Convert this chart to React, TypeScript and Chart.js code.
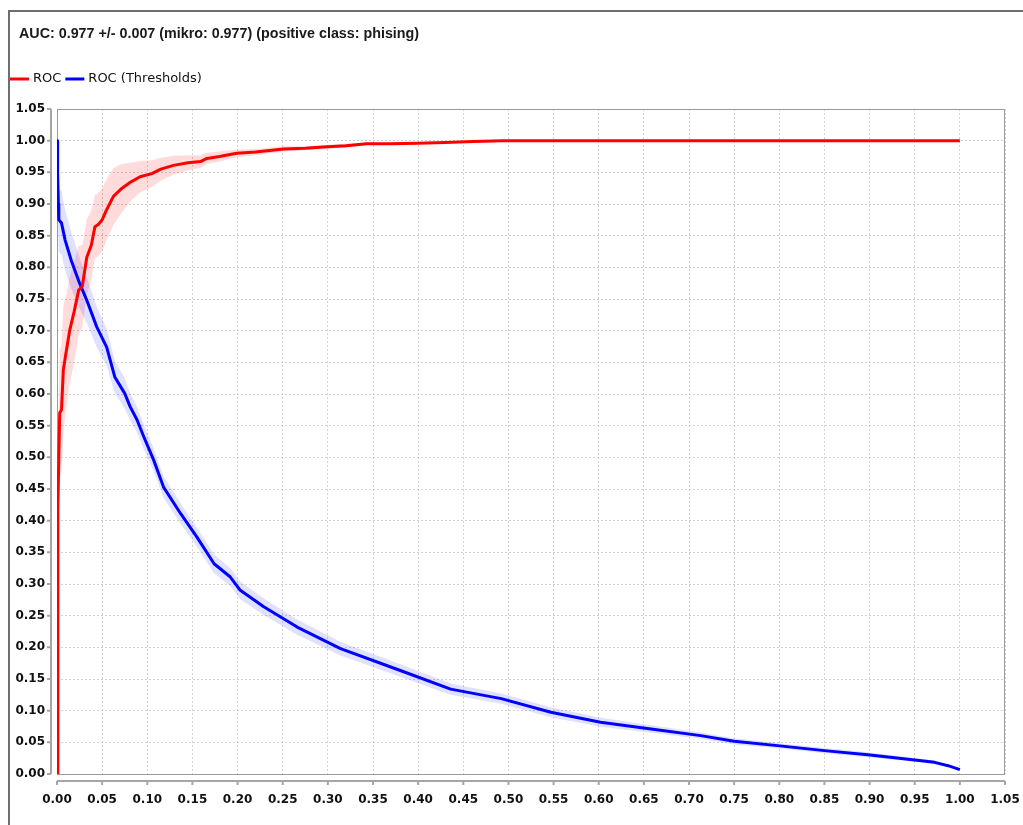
import React, { useEffect, useRef } from "react";
import { Chart, registerables } from "chart.js";

Chart.register(...registerables);

const titleText = "AUC: 0.977 +/- 0.007 (mikro: 0.977) (positive class: phising)";
const rocLabel = "ROC";
const thresholdLabel = "ROC (Thresholds)";

const axisMin = 0;
const axisMax = 1.05;
const axisStep = 0.05;
const tickLabels = [
  "0.00", "0.05", "0.10", "0.15", "0.20", "0.25", "0.30", "0.35", "0.40", "0.45", "0.50",
  "0.55", "0.60", "0.65", "0.70", "0.75", "0.80", "0.85", "0.90", "0.95", "1.00", "1.05",
];

// ROC (red): false positive rate vs true positive rate, with band half-width
const rocX = [
  0, 0.001, 0.002, 0.003, 0.005, 0.007, 0.010, 0.014, 0.019, 0.024, 0.028, 0.033, 0.038, 0.042,
  0.046, 0.050, 0.055, 0.0625, 0.072, 0.082, 0.092, 0.105, 0.115, 0.129, 0.145, 0.159, 0.166,
  0.180, 0.199, 0.220, 0.251, 0.275, 0.295, 0.320, 0.343, 0.370, 0.399, 0.430, 0.461, 0.494,
  0.600, 0.800, 1.000,
];
const rocY = [
  0, 0.42, 0.50, 0.57, 0.575, 0.638, 0.665, 0.70, 0.73, 0.764, 0.77, 0.816, 0.835, 0.864,
  0.868, 0.875, 0.891, 0.912, 0.925, 0.935, 0.943, 0.948, 0.955, 0.961, 0.965, 0.967, 0.972,
  0.975, 0.980, 0.982, 0.987, 0.988, 0.990, 0.992, 0.995, 0.995, 0.996, 0.997, 0.9987, 1.0,
  1.0, 1.0, 1.0,
];
const rocBand = [
  0, 0.05, 0.08, 0.10, 0.10, 0.10, 0.09, 0.085, 0.08, 0.07, 0.065, 0.06, 0.055, 0.05,
  0.05, 0.05, 0.048, 0.045, 0.038, 0.03, 0.025, 0.021, 0.018, 0.015, 0.012, 0.01, 0.009,
  0.008, 0.006, 0.005, 0.004, 0.003, 0.003, 0.003, 0.002, 0.002, 0.002, 0.001, 0.001, 0,
  0, 0, 0,
];

// ROC (Thresholds) (blue)
const thrX = [
  0, 0.0007, 0.0015, 0.002, 0.005, 0.009, 0.016, 0.025, 0.033, 0.044, 0.055, 0.064, 0.075,
  0.081, 0.0887, 0.096, 0.107, 0.118, 0.137, 0.155, 0.174, 0.192, 0.203, 0.229, 0.266, 0.314,
  0.381, 0.436, 0.492, 0.547, 0.602, 0.658, 0.713, 0.750, 0.798, 0.850, 0.898, 0.950, 0.972,
  0.987, 1.000,
];
const thrY = [
  1.0, 0.95, 0.90, 0.875, 0.87, 0.843, 0.81, 0.775, 0.748, 0.706, 0.674, 0.627, 0.601,
  0.580, 0.559, 0.533, 0.496, 0.453, 0.411, 0.374, 0.332, 0.311, 0.290, 0.264, 0.232, 0.198,
  0.163, 0.134, 0.119, 0.0975, 0.0817, 0.071, 0.0606, 0.0516, 0.0448, 0.0369, 0.0305, 0.0222,
  0.0184, 0.0131, 0.0068,
];
const thrBand = [
  0, 0.03, 0.045, 0.05, 0.05, 0.048, 0.045, 0.04, 0.036, 0.032, 0.029, 0.026, 0.024,
  0.022, 0.02, 0.02, 0.018, 0.017, 0.016, 0.015, 0.015, 0.014, 0.014, 0.013, 0.012, 0.011,
  0.01, 0.009, 0.008, 0.008, 0.007, 0.006, 0.005, 0.005, 0.004, 0.004, 0.004, 0.003, 0.003,
  0.002, 0,
];

const toPoints = (xs: number[], ys: number[]) => xs.map((x, i) => ({ x, y: ys[i] }));
const bandPoints = (xs: number[], ys: number[], band: number[], sign: number) =>
  xs.map((x, i) => ({ x, y: ys[i] + sign * band[i] }));

const legendEntries = [0, 1];

const decorPlugin = {
  id: "decor",
  beforeDatasetsDraw(chart: any) {
    const { ctx, chartArea: a } = chart;
    ctx.save();
    ctx.strokeStyle = "#9a9a9a";
    ctx.lineWidth = 1;
    ctx.strokeRect(a.left + 0.5, a.top + 0.5, a.right - a.left - 1, a.bottom - a.top);
    ctx.restore();
  },
  afterDraw(chart: any) {
    const { ctx, chartArea: a, scales } = chart;
    ctx.save();
    // outer frame
    ctx.fillStyle = "#6e6e6e";
    ctx.fillRect(8, 10, chart.width - 8, 2);
    ctx.fillRect(8, 10, 2, chart.height - 10);

    // title
    ctx.fillStyle = "#1a1a1a";
    ctx.font = "bold 14.3px 'Liberation Sans', Arial, sans-serif";
    ctx.textAlign = "left";
    ctx.textBaseline = "alphabetic";
    ctx.fillText(titleText, 19, 38);

    // legend
    let lx = 10;
    const ly = 79;
    ctx.font = "13px 'DejaVu Sans', sans-serif";
    ctx.textBaseline = "middle";
    legendEntries.forEach((idx) => {
      const ds = chart.data.datasets[idx];
      ctx.strokeStyle = ds.borderColor;
      ctx.lineWidth = 3;
      ctx.beginPath();
      ctx.moveTo(lx, ly);
      ctx.lineTo(lx + 19, ly);
      ctx.stroke();
      ctx.fillStyle = "#111";
      ctx.fillText(ds.label, lx + 23, ly);
      lx += 23 + ctx.measureText(ds.label).width + 4;
    });

    // offset axis lines
    ctx.strokeStyle = "#a6a6a6";
    ctx.lineWidth = 2;
    const ax = a.left - 6;
    ctx.beginPath();
    ctx.moveTo(ax, a.top);
    ctx.lineTo(ax, a.bottom);
    scales.y.ticks.forEach((t: any) => {
      const py = scales.y.getPixelForValue(t.value);
      ctx.moveTo(ax, py);
      ctx.lineTo(ax - 4, py);
    });
    const ay = a.bottom + 7;
    ctx.moveTo(a.left, ay);
    ctx.lineTo(a.right, ay);
    scales.x.ticks.forEach((t: any) => {
      const px = scales.x.getPixelForValue(t.value);
      ctx.moveTo(px, ay);
      ctx.lineTo(px, ay + 4);
    });
    ctx.stroke();
    ctx.restore();
  },
};

export default function App() {
  const canvasRef = useRef<HTMLCanvasElement | null>(null);

  useEffect(() => {
    if (!canvasRef.current) return;
    const tickFont = { family: "'DejaVu Sans', sans-serif", size: 12, weight: "bold" as const };
    const fmt = (v: any, i: number) => tickLabels[i] ?? Number(v).toFixed(2);
    const chart = new Chart(canvasRef.current, {
      type: "line",
      data: {
        datasets: [
          {
            label: rocLabel,
            data: toPoints(rocX, rocY),
            borderColor: "#ff0000",
            borderWidth: 3,
            pointRadius: 0,
            fill: false,
            tension: 0,
            borderJoinStyle: "round",
            order: 0,
          },
          {
            label: thresholdLabel,
            data: toPoints(thrX, thrY),
            borderColor: "#0000ff",
            borderWidth: 3,
            pointRadius: 0,
            fill: false,
            tension: 0,
            borderJoinStyle: "round",
            order: 1,
          },
          {
            label: "roc-upper",
            data: bandPoints(rocX, rocY, rocBand, 1),
            borderColor: "rgba(0,0,0,0)",
            borderWidth: 0,
            pointRadius: 0,
            fill: false,
            order: 5,
          },
          {
            label: "roc-lower",
            data: bandPoints(rocX, rocY, rocBand, -1),
            borderColor: "rgba(0,0,0,0)",
            backgroundColor: "rgba(255,0,0,0.14)",
            borderWidth: 0,
            pointRadius: 0,
            fill: 2,
            order: 4,
          },
          {
            label: "thr-upper",
            data: bandPoints(thrX, thrY, thrBand, 1),
            borderColor: "rgba(0,0,0,0)",
            borderWidth: 0,
            pointRadius: 0,
            fill: false,
            order: 3,
          },
          {
            label: "thr-lower",
            data: bandPoints(thrX, thrY, thrBand, -1),
            borderColor: "rgba(0,0,0,0)",
            backgroundColor: "rgba(0,0,255,0.12)",
            borderWidth: 0,
            pointRadius: 0,
            fill: 4,
            order: 2,
          },
        ],
      },
      options: {
        animation: false,
        responsive: false,
        devicePixelRatio: 1,
        layout: { padding: { left: 0, top: 109, right: 18, bottom: 0 } },
        plugins: {
          legend: { display: false },
          title: { display: false },
          tooltip: { enabled: false },
        },
        scales: {
          x: {
            type: "linear",
            min: axisMin,
            max: axisMax,
            afterFit: (s: any) => {
              s.height = 51;
              s.paddingLeft = 0;
              s.paddingRight = 0;
            },
            grid: { color: "#d2d2d2", lineWidth: 1, drawTicks: false },
            border: { display: false, dash: [2, 2] },
            ticks: {
              stepSize: axisStep,
              autoSkip: false,
              maxRotation: 0,
              padding: 19,
              color: "#111",
              font: tickFont,
              callback: fmt,
            },
          },
          y: {
            type: "linear",
            min: axisMin,
            max: axisMax,
            afterFit: (s: any) => {
              s.width = 57;
              s.paddingTop = 0;
              s.paddingBottom = 0;
            },
            grid: { color: "#d2d2d2", lineWidth: 1, drawTicks: false },
            border: { display: false, dash: [2, 2] },
            ticks: {
              stepSize: axisStep,
              autoSkip: false,
              padding: 12,
              color: "#111",
              font: tickFont,
              callback: fmt,
            },
          },
        },
      },
      plugins: [decorPlugin],
    } as any);
    return () => chart.destroy();
  }, []);

  return (
    <canvas
      ref={canvasRef}
      width={1023}
      height={825}
      style={{ position: "fixed", left: 0, top: 0, width: 1023, height: 825, background: "#fff" }}
    />
  );
}
